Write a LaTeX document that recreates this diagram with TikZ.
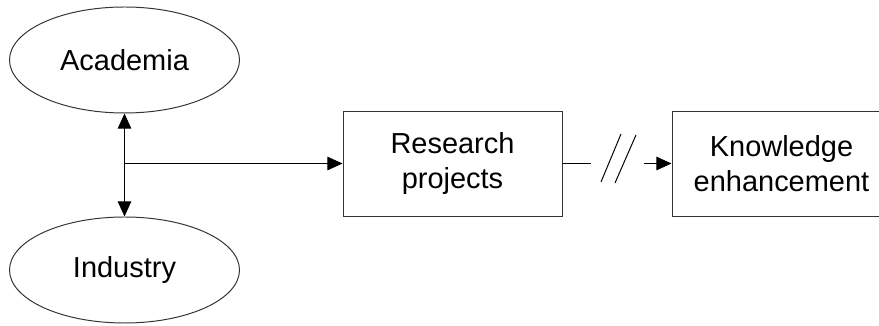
\documentclass[tikz,border=0pt]{standalone}
\usepackage{fontspec}
\setmainfont{Liberation Sans}
\usepackage{tikz}
\usetikzlibrary{positioning,arrows.meta,shapes.geometric}
\definecolor{edgegray}{HTML}{333333}

\begin{document}
\begin{tikzpicture}[
  >={Triangle[length=3.8mm,width=3.4mm]},
  party/.style={ellipse,draw=edgegray,line width=0.7pt,minimum width=5.75cm,
    minimum height=2.65cm,inner sep=0pt,font=\fontsize{20.6}{24}\selectfont},
  stagebox/.style={rectangle,draw=edgegray,line width=0.7pt,minimum width=5.475cm,
    minimum height=2.625cm,inner sep=0pt,align=center,font=\fontsize{20.6}{24.5}\selectfont},
  edg/.style={line width=0.7pt,draw=black}]

  \useasboundingbox (0,0) rectangle (21.975,8.15);

  % the two partners
  \node[party] (acad) at (3.1125,6.65) {Academia};
  \node[party] (ind)  at (3.1125,1.4)  {Industry};

  % what they produce
  \node[stagebox] (rp) at (11.3125,4.0625) {Research\\projects};
  \node[stagebox,right=2.725cm of rp] (ke) {Knowledge\\enhancement};

  % links
  \draw[edg,<->] (acad.south) -- (ind.north);
  \coordinate (junc) at (acad.south |- rp.west);
  \draw[edg,->] (junc) -- (rp.west);

  % broken link to knowledge
  \coordinate[right=0.7cm of rp.east] (cutA);
  \coordinate[left=0.7cm of ke.west] (cutB);
  \draw[edg] (rp.east) -- (cutA);
  \draw[edg,->] (cutB) -- (ke.west);
  \draw[edg] (15.025,3.6) -- (15.525,4.8);
  \draw[edg] (15.375,3.575) -- (15.9,4.775);
\end{tikzpicture}
\end{document}
